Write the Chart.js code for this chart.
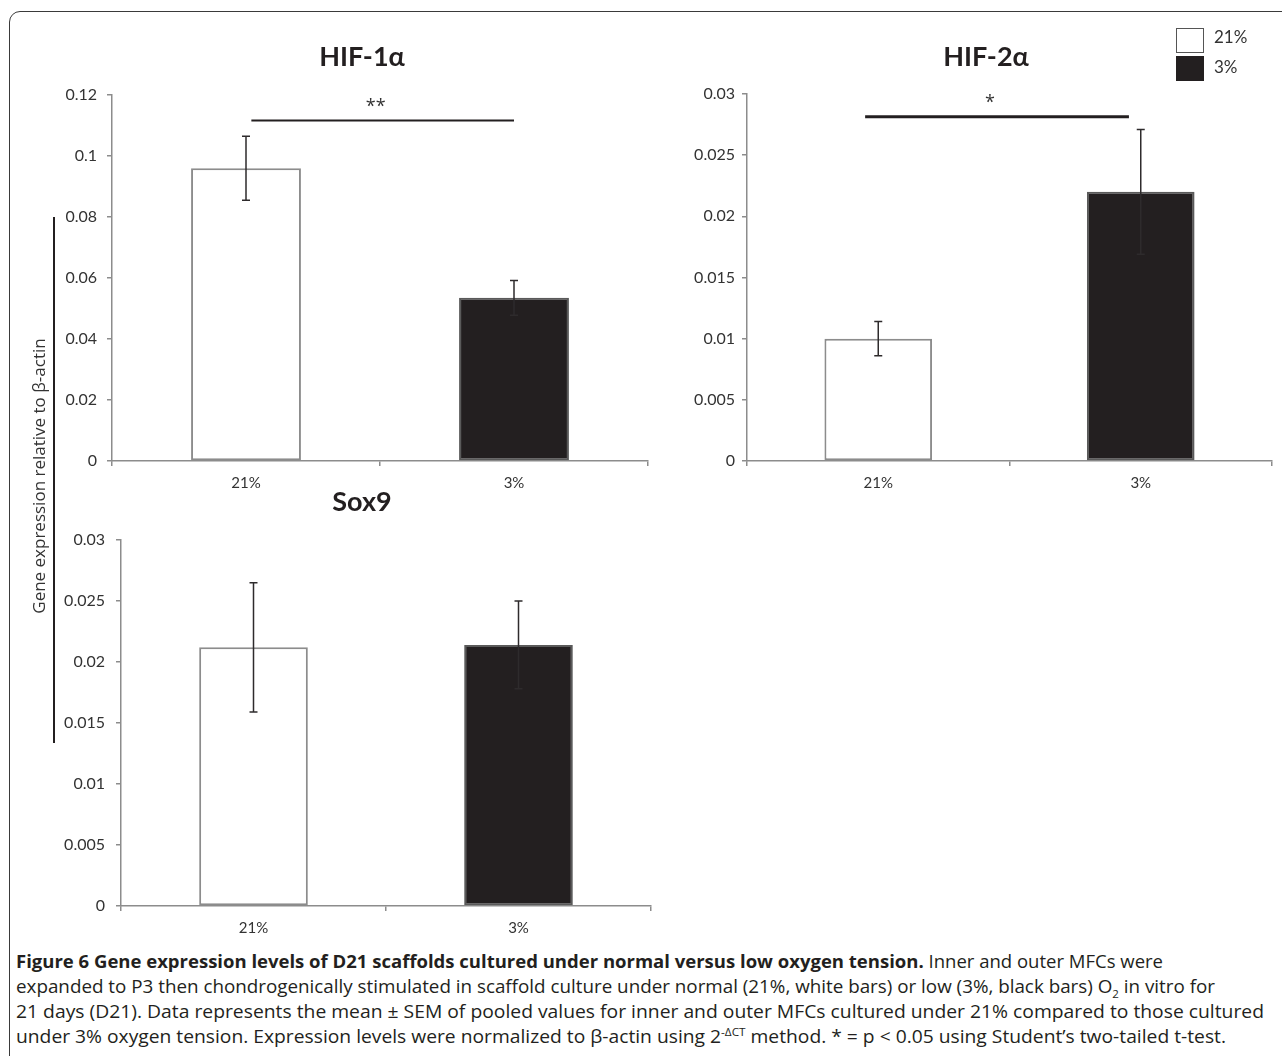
<!DOCTYPE html>
<html>
<head>
<meta charset="utf-8">
<script src="https://cdn.jsdelivr.net/npm/chart.js@4.4.0/dist/chart.umd.min.js"></script>
<style>
  body { margin: 0; width: 1282px; height: 1056px; overflow: hidden; background: #fff; position: relative; font-family: 'Open Sans', sans-serif; color: #231f20; }
  canvas { position: absolute; }
  .frame { position: absolute; left: 9px; top: 11px; width: 1320px; height: 1120px; border: 1.5px solid #3a3a3a; border-radius: 11px; box-sizing: border-box; }
  .title { position: absolute; transform: translate(-50%, -50%); font-family: Lato, sans-serif; font-weight: 700; font-size: 27px; color: #231f20; white-space: nowrap; }
  .ytitle { position: absolute; left: 38px; top: 476px; transform: translate(-50%, -50%) rotate(-90deg); white-space: nowrap; font-size: 17px; color: #333; }
  .yline { position: absolute; left: 53px; top: 217px; width: 2px; height: 526px; background: #231f20; }
  .lgbox { position: absolute; left: 1176px; width: 28px; height: 25px; box-sizing: border-box; }
  .lgtext { position: absolute; left: 1214px; font-family: Lato, sans-serif; font-size: 17px; color: #333; line-height: 20px; }
  .cap { position: absolute; left: 16px; white-space: nowrap; font-size: 18px; line-height: 20px; color: #231f20; transform-origin: 0 50%; display: inline-block; }
  .cap b { font-weight: 700; }
  .cap sub, .cap sup { font-size: 11px; line-height: 0; }
</style>
</head>
<body>
<div class="frame"></div>
<canvas id="c1" width="660" height="500" style="left:0;top:0"></canvas>
<canvas id="c2" width="602" height="500" style="left:680px;top:0"></canvas>
<canvas id="c3" width="670" height="475" style="left:0;top:470px"></canvas>

<div class="title" style="left:362px;top:55px">HIF-1α</div>
<div class="title" style="left:986px;top:55px">HIF-2α</div>
<div class="title" style="left:362px;top:500px">Sox9</div>

<div class="yline"></div>
<div class="ytitle">Gene expression relative to β-actin</div>

<div class="lgbox" style="top:28px;border:1.5px solid #555;background:#fff"></div>
<div class="lgbox" style="top:56px;background:#231f20"></div>
<div class="lgtext" style="top:27px">21%</div>
<div class="lgtext" style="top:57px">3%</div>

<div class="cap" data-w="1147" style="top:951px"><b>Figure 6 Gene expression levels of D21 scaffolds cultured under normal versus low oxygen tension.</b> Inner and outer MFCs were</div>
<div class="cap" data-w="1199" style="top:976px">expanded to P3 then chondrogenically stimulated in scaffold culture under normal (21%, white bars) or low (3%, black bars) O<sub>2</sub> in vitro for</div>
<div class="cap" data-w="1248" style="top:1001px">21 days (D21). Data represents the mean ± SEM of pooled values for inner and outer MFCs cultured under 21% compared to those cultured</div>
<div class="cap" data-w="1210" style="top:1026px">under 3% oxygen tension. Expression levels were normalized to β-actin using 2<sup>-ΔCT</sup> method. * = p &lt; 0.05 using Student’s two-tailed t-test.</div>

<script>
// データ
var categories = ['21%', '3%'];
var hif1Mean = [0.096, 0.0535];
var hif1Sem = [0.0105, 0.0057];
var hif2Mean = [0.0100, 0.0220];
var hif2Sem = [0.0014, 0.0051];
var sox9Mean = [0.0212, 0.0214];
var sox9Sem = [0.0053, 0.0036];
var hif1Ticks = [0, 0.02, 0.04, 0.06, 0.08, 0.1, 0.12];
var hif2Ticks = [0, 0.005, 0.01, 0.015, 0.02, 0.025, 0.03];
var sox9Ticks = [0, 0.005, 0.01, 0.015, 0.02, 0.025, 0.03];

var axisGray = '#8c8c8c';
Chart.defaults.font.family = 'Lato';

// エラーバー（平均 ± SEM）
var errorBars = {
  id: 'errorBars',
  afterDatasetsDraw: function(chart) {
    var ctx = chart.ctx, xs = chart.scales.x, ys = chart.scales.y;
    var ds = chart.data.datasets[0];
    ctx.save();
    ctx.strokeStyle = '#2e2b2c';
    ctx.lineWidth = 1.5;
    for (var i = 0; i < ds.data.length; i++) {
      var px = xs.getPixelForValue(i);
      var top = ys.getPixelForValue(ds.data[i] + ds.sem[i]);
      var bot = ys.getPixelForValue(ds.data[i] - ds.sem[i]);
      ctx.beginPath();
      ctx.moveTo(px, top); ctx.lineTo(px, bot);
      ctx.moveTo(px - 4, top); ctx.lineTo(px + 4, top);
      ctx.moveTo(px - 4, bot); ctx.lineTo(px + 4, bot);
      ctx.stroke();
    }
    ctx.restore();
  }
};

// 有意差のバー
function sigBar(sig) {
  return {
    id: 'sigBar',
    afterDraw: function(chart) {
      if (!sig) return;
      var ctx = chart.ctx, xs = chart.scales.x, ys = chart.scales.y;
      var x0 = xs.getPixelForValue(sig.from), x1 = xs.getPixelForValue(sig.to);
      var py = ys.getPixelForValue(sig.y);
      ctx.save();
      ctx.strokeStyle = '#231f20';
      ctx.lineWidth = sig.width;
      ctx.beginPath(); ctx.moveTo(x0, py); ctx.lineTo(x1, py); ctx.stroke();
      ctx.fillStyle = '#333';
      ctx.font = '18px "Open Sans"';
      ctx.textAlign = 'center';
      ctx.textBaseline = 'middle';
      ctx.fillText(sig.label, (x0 + x1) / 2 - 7, py - 14);
      ctx.restore();
    }
  };
}

function makeChart(id, p) {
  return new Chart(document.getElementById(id), {
    type: 'bar',
    data: {
      labels: categories,
      datasets: [{
        data: p.mean,
        sem: p.sem,
        backgroundColor: ['#ffffff', '#231f20'],
        borderColor: ['#8c8c8c', '#5a5a5a'],
        borderWidth: 2,
        borderSkipped: false,
        barPercentage: 0.41,
        categoryPercentage: 1
      }]
    },
    options: {
      responsive: false,
      animation: false,
      layout: { padding: p.pad },
      plugins: {
        legend: { display: false },
        tooltip: { enabled: false }
      },
      scales: {
        x: {
          grid: { offset: true, drawOnChartArea: false, tickLength: 5, color: axisGray, lineWidth: 1.5 },
          border: { color: axisGray, width: 1.5 },
          ticks: { color: '#333', font: { size: 15 }, padding: 8 },
          afterFit: function(s) { s.height = 39; }
        },
        y: {
          min: 0,
          max: p.ticks[p.ticks.length - 1],
          afterBuildTicks: function(s) { s.ticks = p.ticks.map(function(v) { return { value: v }; }); },
          grid: { drawOnChartArea: false, tickLength: 5, color: axisGray, lineWidth: 1.5 },
          border: { color: axisGray, width: 1.5 },
          ticks: {
            color: '#333', font: { size: 16 }, padding: p.labelGap,
            callback: function(v) { return String(parseFloat(v.toFixed(4))); }
          },
          afterFit: function(s) { s.width = p.yWidth; }
        }
      }
    },
    plugins: [errorBars, sigBar(p.sig)]
  });
}

makeChart('c1', {
  mean: hif1Mean, sem: hif1Sem, ticks: hif1Ticks,
  pad: { top: 95, left: 0, right: 12, bottom: 0 }, yWidth: 112, labelGap: 10,
  sig: { from: 0.02, to: 1.0, y: 0.1116, label: '**', width: 2 }
});
makeChart('c2', {
  mean: hif2Mean, sem: hif2Sem, ticks: hif2Ticks,
  pad: { top: 94, left: 0, right: 10, bottom: 0 }, yWidth: 67, labelGap: 7,
  sig: { from: -0.05, to: 0.955, y: 0.02814, label: '*', width: 3 }
});
makeChart('c3', {
  mean: sox9Mean, sem: sox9Sem, ticks: sox9Ticks,
  pad: { top: 70, left: 0, right: 19, bottom: 0 }, yWidth: 121, labelGap: 11,
  sig: null
});

// キャプションの幅を合わせる
document.querySelectorAll('.cap').forEach(function(el) {
  var w = el.getBoundingClientRect().width;
  el.style.transform = 'scaleX(' + (+el.dataset.w / w) + ')';
});
</script>
</body>
</html>
